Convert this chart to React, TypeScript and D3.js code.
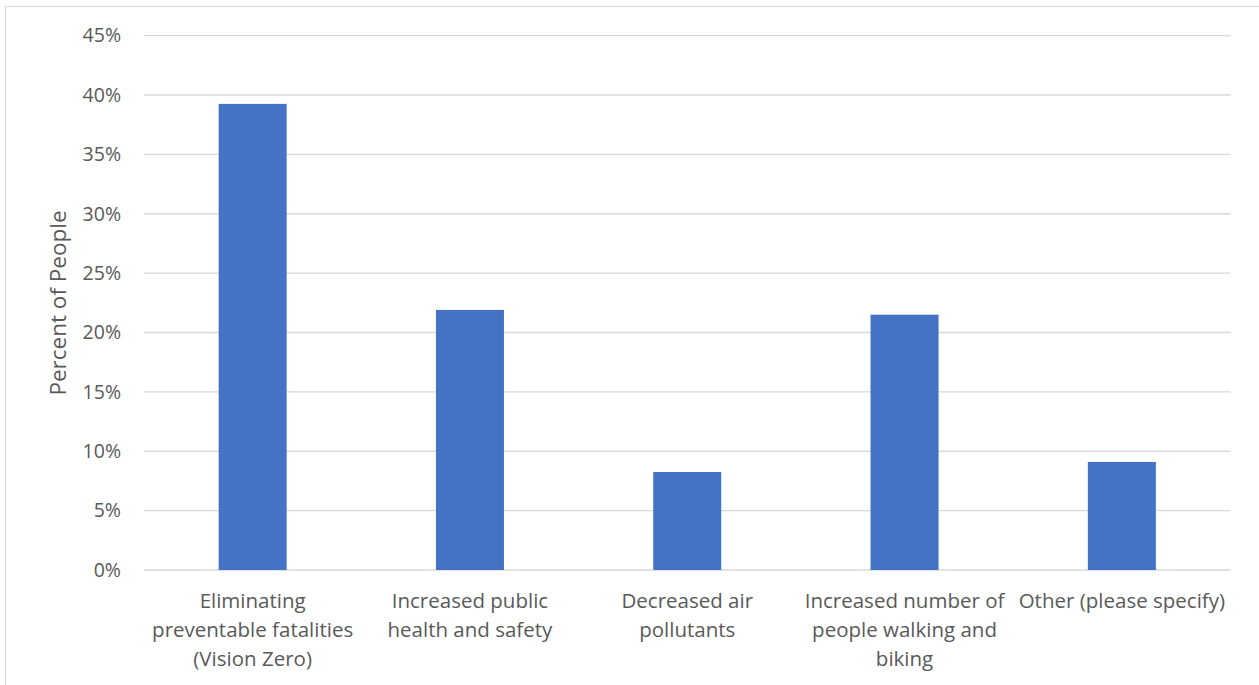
import React from "react";
import * as d3 from "d3";

const categories: string[][] = [
  ["Eliminating", "preventable fatalities", "(Vision Zero)"],
  ["Increased public", "health and safety"],
  ["Decreased air", "pollutants"],
  ["Increased number of", "people walking and", "biking"],
  ["Other (please specify)"],
];
const values: number[] = [0.3925, 0.219, 0.0825, 0.215, 0.091];
const yTicks: number[] = [0, 0.05, 0.1, 0.15, 0.2, 0.25, 0.3, 0.35, 0.4, 0.45];

const W = 1259;
const H = 685;
const left = 144;
const right = 1230.5;
const top = 35.6;
const bottom = 570;
const font = "Open Sans, sans-serif";
const textColor = "#595959";

export default function App() {
  const x = d3
    .scaleBand<number>()
    .domain(values.map((_, i) => i))
    .range([left, right])
    .paddingInner(0.687)
    .paddingOuter(0.3435);
  const y = d3.scaleLinear().domain([0, 0.45]).range([bottom, top]);
  const fmt = d3.format(".0%");
  const bandW = (right - left) / values.length;

  return (
    <svg
      width={W}
      height={H}
      style={{ position: "absolute", left: 0, top: 0, background: "#fff" }}
    >
      <rect x={5.5} y={6.5} width={W + 10} height={H + 10} fill="#fff" stroke="#D9D9D9" strokeWidth={1} />
      {yTicks.map((t) => (
        <g key={t}>
          <line x1={left} x2={right} y1={y(t)} y2={y(t)} stroke="#D9D9D9" strokeWidth={1.3} />
          <text
            x={121}
            y={y(t)}
            dy="0.35em"
            textAnchor="end"
            fontFamily={font}
            fontSize={19.5}
            fill={textColor}
          >
            {fmt(t)}
          </text>
        </g>
      ))}
      {values.map((v, i) => (
        <rect
          key={i}
          x={x(i)}
          y={y(v)}
          width={x.bandwidth()}
          height={bottom - y(v)}
          fill="#4472C4"
        />
      ))}
      {categories.map((lines, i) => (
        <text
          key={i}
          x={left + bandW * (i + 0.5)}
          textAnchor="middle"
          fontFamily={font}
          fontSize={20.5}
          fill={textColor}
        >
          {lines.map((l, j) => (
            <tspan key={j} x={left + bandW * (i + 0.5)} y={601 + j * 29} dy="0.35em">
              {l}
            </tspan>
          ))}
        </text>
      ))}
      <text
        transform={`translate(58, 303) rotate(-90)`}
        textAnchor="middle"
        dy="0.35em"
        fontFamily={font}
        fontSize={22.5}
        fill={textColor}
      >
        Percent of People
      </text>
    </svg>
  );
}
